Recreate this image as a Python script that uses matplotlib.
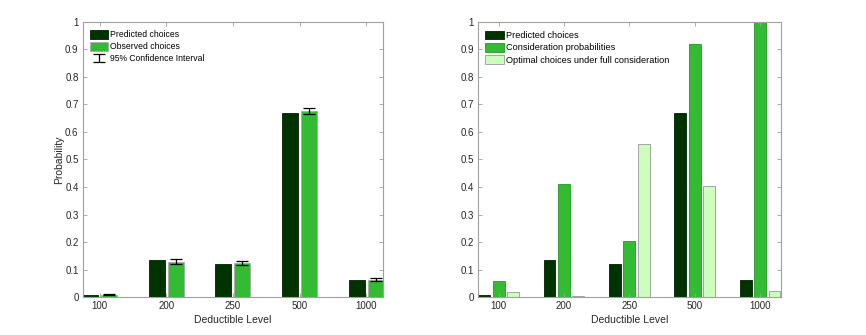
import numpy as np
import matplotlib
matplotlib.use('Agg')
import matplotlib.pyplot as plt

plt.rcParams['font.family'] = ['Liberation Sans', 'DejaVu Sans']

deductibles = ['100', '200', '250', '500', '1000']
predicted = [0.009, 0.135, 0.121, 0.668, 0.062]
observed = [0.009, 0.129, 0.1225, 0.676, 0.063]
observed_err = [0.002, 0.008, 0.007, 0.011, 0.006]
consideration = [0.059, 0.412, 0.204, 0.921, 1.0]
optimal = [0.018, 0.002, 0.556, 0.404, 0.021]

DARK = '#003300'
MID = '#33bb33'
LIGHT = '#ccffbb'
AXCOL = '#a0a0a0'
TXT = '#262626'

fig = plt.figure(figsize=(8.66, 3.35), dpi=100)
ax1 = fig.add_axes([0.0955, 0.1134, 0.347, 0.821])
ax2 = fig.add_axes([0.552, 0.1134, 0.3495, 0.821])

x = np.arange(1, len(deductibles) + 1)


def style_axes(ax, xlim):
    ax.set_xlim(*xlim)
    ax.set_ylim(0, 1)
    ax.set_xticks(x)
    ax.set_xticklabels(deductibles)
    ax.set_yticks(np.arange(0, 1.01, 0.1))
    ax.set_yticklabels(['0'] + ['%.1f' % v for v in np.arange(0.1, 0.95, 0.1)] + ['1'])
    for s in ax.spines.values():
        s.set_color(AXCOL)
        s.set_linewidth(0.8)
    ax.tick_params(direction='in', length=3, width=0.6, color=AXCOL,
                   labelsize=7, labelcolor=TXT, top=True, right=True, pad=3)
    ax.set_xlabel('Deductible Level', fontsize=7.5, color=TXT, labelpad=3)


# left panel: predicted vs observed
w1, off1 = 0.24, 0.143
ax1.bar(x - off1, predicted, w1, color=DARK, edgecolor='#002200', linewidth=0.6,
        label='Predicted choices')
ax1.bar(x + off1, observed, w1, color=MID, edgecolor='#aaaaaa', linewidth=0.6,
        label='Observed choices')
ax1.errorbar(x + off1, observed, yerr=observed_err, fmt='none', ecolor='black',
             elinewidth=0.9, capsize=4, capthick=0.9, label='95% Confidence Interval')
style_axes(ax1, (0.745, 5.255))
ax1.set_ylabel('Probability', fontsize=7.5, color=TXT, labelpad=1)
ax1.legend(loc='upper left', frameon=False, fontsize=6.2, handlelength=2.1,
           handleheight=1.1, handletextpad=0.25, labelspacing=0.35,
           borderaxespad=0.4, bbox_to_anchor=(0.0, 0.995))

# right panel: predicted, consideration, optimal
w2, off2 = 0.18, 0.22
ax2.bar(x - off2, predicted, w2, color=DARK, edgecolor='#002200', linewidth=0.6,
        label='Predicted choices')
ax2.bar(x, consideration, w2, color=MID, edgecolor='#229922', linewidth=0.6,
        label='Consideration probabilities')
ax2.bar(x + off2, optimal, w2, color=LIGHT, edgecolor='#999999', linewidth=0.6,
        label='Optimal choices under full consideration')
style_axes(ax2, (0.685, 5.315))
ax2.legend(loc='upper left', frameon=False, fontsize=6.6, handlelength=2.0,
           handleheight=1.1, handletextpad=0.25, labelspacing=0.3,
           borderaxespad=0.4, bbox_to_anchor=(0.0, 0.995))

fig.savefig('out.png', dpi=100)
